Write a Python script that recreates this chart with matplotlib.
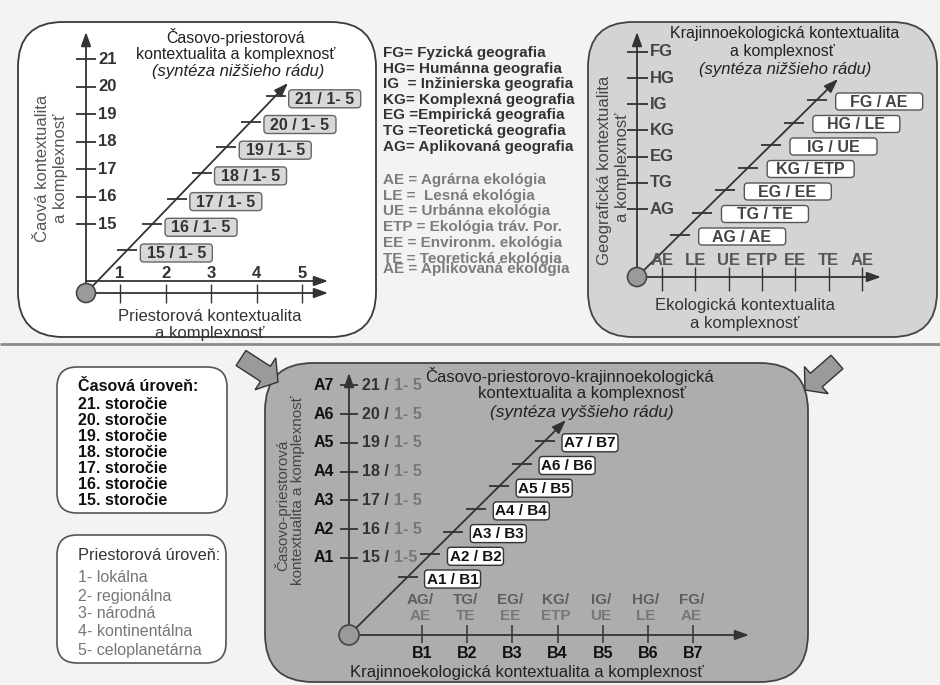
import matplotlib
matplotlib.use('Agg')
import matplotlib.pyplot as plt
from matplotlib.patches import FancyBboxPatch, Circle, FancyArrow

plt.rcParams['font.family'] = ['Liberation Sans', 'DejaVu Sans']

# ---------------- data ----------------
centuries = ['15', '16', '17', '18', '19', '20', '21']
century_ranges = ['1- 5', '1- 5', '1- 5', '1- 5', '1- 5', '1- 5', '1- 5']
spatial_levels = ['1', '2', '3', '4', '5']
geo_codes = ['AG', 'TG', 'EG', 'KG', 'IG', 'HG', 'FG']
eco_axis_codes = ['AE', 'LE', 'UE', 'ETP', 'EE', 'TE', 'AE']
eco_pair_codes = ['AE', 'TE', 'EE', 'ETP', 'UE', 'LE', 'AE']
a_codes = ['A1', 'A2', 'A3', 'A4', 'A5', 'A6', 'A7']
b_codes = ['B1', 'B2', 'B3', 'B4', 'B5', 'B6', 'B7']
a_ranges = ['1-5', '1- 5', '1- 5', '1- 5', '1- 5', '1- 5', '1- 5']

geo_legend = ['FG= Fyzická geografia', 'HG= Humánna geografia',
              'IG  = Inžinierska geografia', 'KG= Komplexná geografia',
              'EG =Empirická geografia', 'TG =Teoretická geografia',
              'AG= Aplikovaná geografia']
eco_legend = ['AE = Agrárna ekológia', 'LE =  Lesná ekológia',
              'UE = Urbánna ekológia', 'ETP = Ekológia tráv. Por.',
              'EE = Environm. ekológia', 'TE = Teoretická ekológia',
              'AE = Aplikovaná ekológia']
time_title = 'Časová úroveň:'
time_items = ['21. storočie', '20. storočie', '19. storočie', '18. storočie',
              '17. storočie', '16. storočie', '15. storočie']
space_title = 'Priestorová úroveň:'
space_items = ['1- lokálna', '2- regionálna', '3- národná',
               '4- kontinentálna', '5- celoplanetárna']

p1_title = ['Časovo-priestorová', 'kontextualita a komplexnosť', '(syntéza nižšieho rádu)']
p1_ylabel = ['Čaová kontextualita', 'a komplexnosť']
p1_xlabel = ['Priestorová kontextualita', 'a komplexnosť']
p3_title = ['Krajinnoekologická kontextualita', 'a komplexnosť', '(syntéza nižšieho rádu)']
p3_ylabel = ['Geografická kontextualita', 'a komplexnosť']
p3_xlabel = ['Ekologická kontextualita', 'a komplexnosť']
p4_title = ['Časovo-priestorovo-krajinnoekologická', 'kontextualita a komplexnosť',
            '(syntéza vyššieho rádu)']
p4_ylabel = ['Časovo-priestorová', 'kontextualita a komplexnosť']
p4_xlabel = 'Krajinnoekologická kontextualita a komplexnosť'

# ---------------- figure ----------------
W, H = 940, 685
fig = plt.figure(figsize=(9.4, 6.85), dpi=100)
fig.patch.set_facecolor('#f3f3f3')
ax = fig.add_axes([0, 0, 1, 1])
ax.set_xlim(0, W)
ax.set_ylim(H, 0)
ax.axis('off')

LINE = '#333333'


def rbox(x0, y0, x1, y1, r, fc, ec, lw=1.2, z=1):
    ax.add_patch(FancyBboxPatch((x0, y0), x1 - x0, y1 - y0,
                                boxstyle=f'round,pad=0,rounding_size={r}',
                                fc=fc, ec=ec, lw=lw, zorder=z))


def arrow_line(x0, y0, x1, y1, lw=1.3, color=LINE, z=3):
    ax.annotate('', xy=(x1, y1), xytext=(x0, y0),
                arrowprops=dict(arrowstyle='-|>,head_length=0.7,head_width=0.25',
                                color=color, lw=lw, shrinkA=0, shrinkB=0,
                                mutation_scale=12), zorder=z)


def seg(x0, y0, x1, y1, lw=1.3, color=LINE, z=3):
    ax.plot([x0, x1], [y0, y1], color=color, lw=lw, zorder=z, solid_capstyle='butt')


def on_diag(O, E, y):
    return O[0] + (O[1] - y) * (E[0] - O[0]) / (O[1] - E[1])


def txt(x, y, s, size=11.5, weight='normal', color='#222', ha='center',
        va='center', style='normal', rot=0, z=6):
    return ax.text(x, y, s, fontsize=size, fontweight=weight, color=color, ha=ha,
                   va=va, fontstyle=style, rotation=rot, zorder=z)


# separator line
seg(0, 344, W, 344, lw=2, color='#8c8c8c', z=0)

# ================= Panel 1 =================
rbox(18, 22, 376, 337, 45, 'white', '#3a3a3a', lw=1.3)
O1 = (86, 293)
E1 = (288, 83)
arrow_line(O1[0], O1[1], O1[0], 32)
arrow_line(O1[0], 281, 328, 281)
arrow_line(O1[0], O1[1], 328, O1[1])
for i, c in enumerate(centuries):
    y = 224 - 27.5 * i
    seg(76, y, 96, y)
    txt(98, y, c, size=12, weight='bold', color='#333', ha='left')
for i, s in enumerate(spatial_levels):
    x = 120 + 45.5 * i
    seg(x, 284, x, 303, lw=1)
    txt(x, 273, s, size=12, weight='bold', color='#333')
arrow_line(O1[0], O1[1], E1[0], E1[1])
for i, c in enumerate(centuries):
    y = 250 - 25.7 * i
    x = on_diag(O1, E1, y)
    seg(x - 10, y, x + 10, y)
    bx = x + 13
    rbox(bx, y + 3 - 9, bx + 72, y + 3 + 9, 3.5, '#d8d8d8', '#666', lw=1, z=4)
    txt(bx + 36, y + 3.5, f'{c} / {century_ranges[i]}', size=11.5, weight='bold',
        color='#333')
ax.add_patch(Circle(O1, 9.5, fc='#9a9a9a', ec='#444', lw=1.2, zorder=5))
txt(236, 37, p1_title[0], size=11.5)
txt(236, 54, p1_title[1], size=11.5)
txt(238, 71, p1_title[2], size=12, style='italic')
txt(43, 168, p1_ylabel[0], size=12, color='#555', rot=90)
txt(60, 168, p1_ylabel[1], size=12, color='#555', rot=90)
txt(210, 316, p1_xlabel[0], size=12, color='#333')
txt(210, 333, p1_xlabel[1], size=12, color='#333')

# ================= Legend (middle) =================
for i, s in enumerate(geo_legend):
    txt(383, 53 + 15.6 * i, s, size=11, weight='bold', color='#333', ha='left')
for i, s in enumerate(eco_legend):
    y = 180 + 15.7 * i if i < len(eco_legend) - 1 else 180 + 15.7 * (i - 1) + 10.5
    txt(383, y, s, size=11, weight='bold', color='#7c7c7c', ha='left')

# ================= Panel 3 =================
rbox(588, 22, 937, 337, 45, '#d4d4d4', '#444', lw=1.3)
O3 = (637, 277)
E3 = (838, 79)
arrow_line(O3[0], O3[1], O3[0], 32)
arrow_line(O3[0], O3[1], 881, O3[1])
for i, g in enumerate(geo_codes):
    y = 209 - 26.2 * i
    seg(627, y, 648, y)
    txt(650, y, g, size=12, weight='bold', color='#444', ha='left')
for i, e in enumerate(eco_axis_codes):
    x = 662 + 33.3 * i
    seg(x, 267, x, 291, lw=1)
    txt(x, 260, e, size=12, weight='bold', color='#555')
arrow_line(O3[0], O3[1], E3[0], E3[1])
for i, g in enumerate(geo_codes):
    y = 235 - 22.5 * i
    x = on_diag(O3, E3, y)
    seg(x - 10, y, x + 10, y)
    bx = x + 19
    rbox(bx, y + 1.5 - 8.5, bx + 87, y + 1.5 + 8.5, 3.5, 'white', '#555', lw=1, z=4)
    txt(bx + 43, y + 2, f'{g} / {eco_pair_codes[i]}', size=11.5, weight='bold',
        color='#444')
ax.add_patch(Circle(O3, 9.5, fc='#9a9a9a', ec='#444', lw=1.2, zorder=5))
txt(785, 33, p3_title[0], size=11.5)
txt(782, 51, p3_title[1], size=11.5)
txt(785, 69, p3_title[2], size=12, style='italic')
txt(605, 170, p3_ylabel[0], size=12, color='#444', rot=90)
txt(623, 167, p3_ylabel[1], size=12, color='#444', rot=90)
txt(745, 305, p3_xlabel[0], size=12, color='#333')
txt(745, 323, p3_xlabel[1], size=12, color='#333')

# ================= Block arrows =================
ax.add_patch(FancyArrow(241, 358, 37, 24, width=18, head_width=38, head_length=15,
                        length_includes_head=True, fc='#9a9a9a', ec='#333', lw=1,
                        zorder=2))
ax.add_patch(FancyArrow(837, 362, -32, 28, width=18, head_width=36,
                        head_length=15, length_includes_head=True, fc='#9a9a9a',
                        ec='#333', lw=1, zorder=2))

# ================= Left boxes =================
rbox(57, 367, 227, 513, 20, 'white', '#555', lw=1.2)
txt(78, 386, time_title, size=11.5, weight='bold', color='#111', ha='left')
for i, s in enumerate(time_items):
    txt(78, 404 + 16 * i, s, size=11.5, weight='bold', color='#111', ha='left')
rbox(57, 535, 226, 663, 20, 'white', '#555', lw=1.2)
txt(78, 556, space_title, size=11.8, color='#333', ha='left')
for i, s in enumerate(space_items):
    txt(78, 578 + 18 * i, s, size=11.5, color='#777', ha='left')

# ================= Panel 4 =================
rbox(265, 363, 808, 682, 48, '#adadad', '#444', lw=1.3)
O4 = (349, 635)
E4 = (566, 420)
arrow_line(O4[0], O4[1], O4[0], 373)
arrow_line(O4[0], O4[1], 749, O4[1])
for i, a in enumerate(a_codes):
    y = 558 - 28.8 * i
    seg(340, y, 358, y)
    txt(334, y, a, size=11.5, weight='bold', color='#111', ha='right')
    t1 = txt(362, y, f'{centuries[i]} /', size=11.5, weight='bold', color='#333',
             ha='left')
    ax.annotate(a_ranges[i], xy=(1, 0.5), xycoords=t1, xytext=(3.5, 0),
                textcoords='offset points', ha='left', va='center', fontsize=11.5,
                fontweight='bold', color='#777', zorder=6)
for i, b in enumerate(b_codes):
    x = 422 + 45.2 * i
    seg(x, 625, x, 643, lw=1.1)
    txt(x, 653, b, size=11.5, weight='bold', color='#111')
    txt(x - 2, 600, f'{geo_codes[i]}/', size=11, weight='bold', color='#5e5e5e')
    txt(x - 2, 616, eco_pair_codes[i], size=11, weight='bold', color='#777')
arrow_line(O4[0], O4[1], E4[0], E4[1])
for i, a in enumerate(a_codes):
    y = 577 - 22.7 * i
    x = on_diag(O4, E4, y)
    seg(x - 10, y, x + 10, y)
    bx = x + 17
    rbox(bx, y + 2 - 9, bx + 56, y + 2 + 9, 3.5, 'white', '#333', lw=1, z=4)
    txt(bx + 28, y + 2.5, f'{a} / {b_codes[i]}', size=11, weight='bold',
        color='#111')
ax.add_patch(Circle(O4, 10, fc='#9a9a9a', ec='#444', lw=1.2, zorder=5))
txt(570, 376, p4_title[0], size=12)
txt(582, 393, p4_title[1], size=12)
txt(582, 412, p4_title[2], size=12.5, style='italic')
txt(282, 505, p4_ylabel[0], size=11, color='#444', rot=90)
txt(298, 490, p4_ylabel[1], size=11, color='#444', rot=90)
txt(527, 673, p4_xlabel, size=12, color='#222')

fig.savefig('out.png', dpi=100, facecolor=fig.get_facecolor())
